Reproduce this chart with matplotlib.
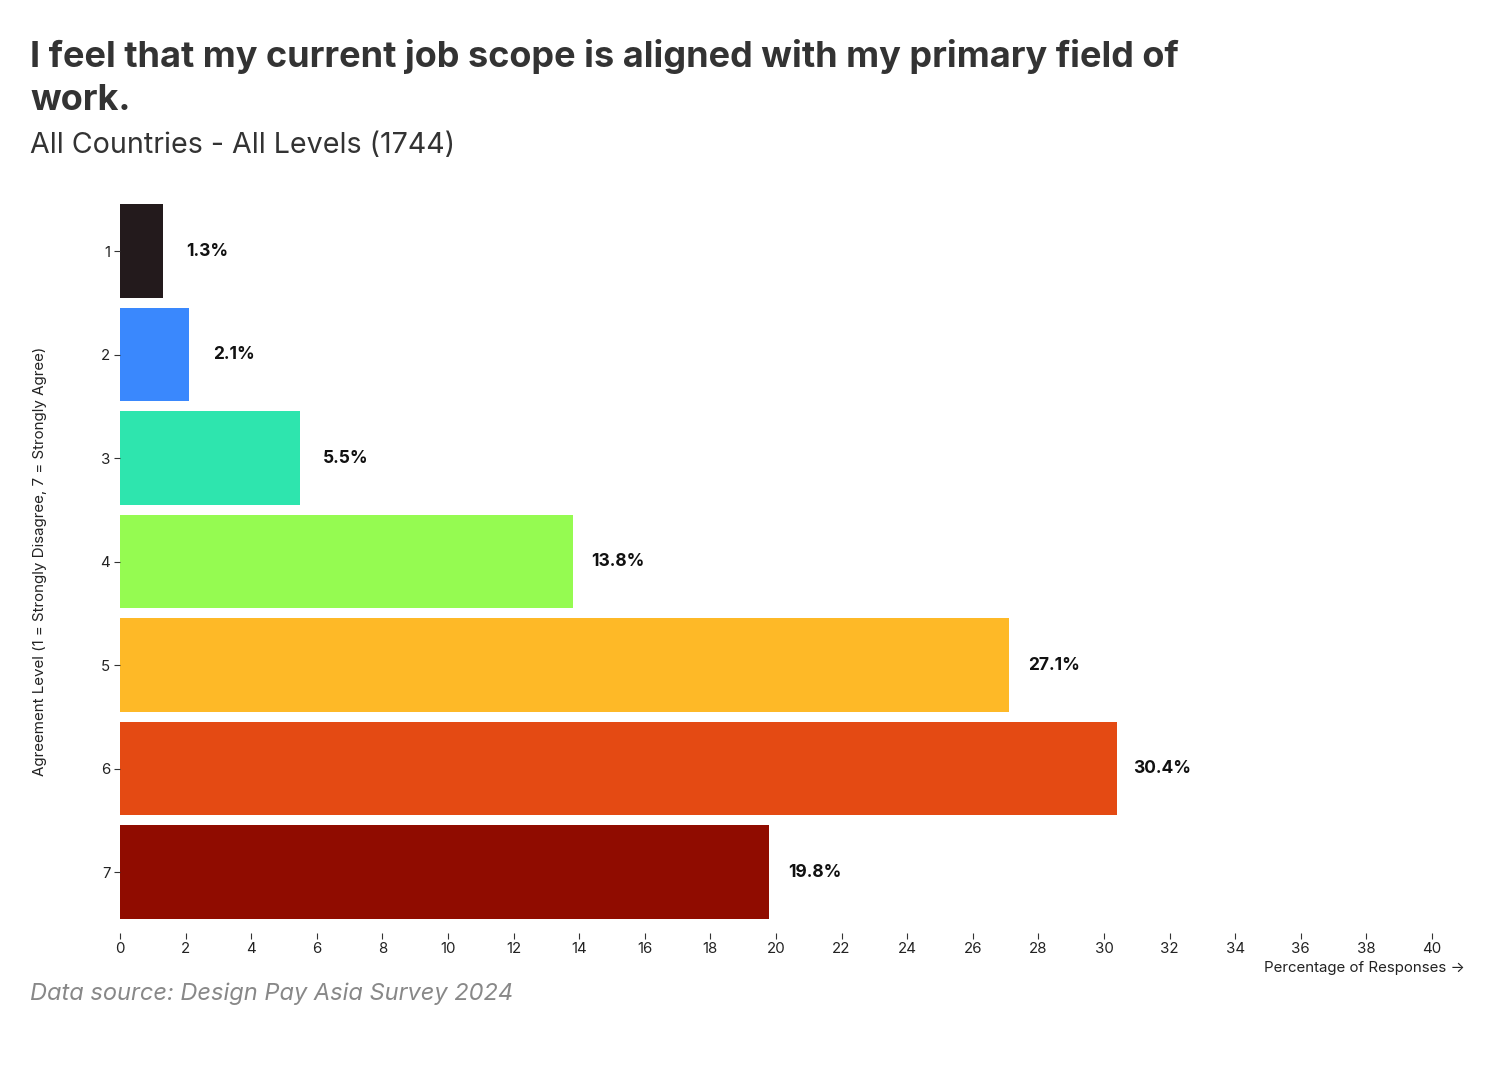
import matplotlib
matplotlib.use("Agg")
import matplotlib.pyplot as plt

levels = ["1", "2", "3", "4", "5", "6", "7"]
values = [1.3, 2.1, 5.5, 13.8, 27.1, 30.4, 19.8]
colors = ["#231a1c", "#3a88fd", "#2ee5ae", "#95fb51", "#feb927", "#e44a13", "#900c00"]
xticks = list(range(0, 41, 2))

title_l1 = "I feel that my current job scope is aligned with my primary field of"
title_l2 = "work."
subtitle = "All Countries - All Levels (1744)"
source = "Data source: Design Pay Asia Survey 2024"
xlabel = "Percentage of Responses \u2192"
ylabel = "Agreement Level (1 = Strongly Disagree, 7 = Strongly Agree)"

plt.rcParams['font.family'] = ['Inter', 'DejaVu Sans']

W, H = 1500, 1066
fig = plt.figure(figsize=(W / 100, H / 100), dpi=100)

def fx(px):
    return px / W

def fy(py):
    return 1 - py / H

left, right, top, bottom = 120, 1432, 199.25, 923.75
ax = fig.add_axes([fx(left), fy(bottom), fx(right - left), (bottom - top) / H])

ypos = list(range(len(levels)))
ax.barh(ypos, values, height=0.9, color=colors)
ax.set_ylim(len(levels) - 0.5, -0.5)
ax.set_xlim(0, 40)
ax.set_yticks(ypos)
ax.set_yticklabels(levels)
ax.set_xticks(xticks)
ax.set_xticklabels([str(t) for t in xticks])

for s in ax.spines.values():
    s.set_visible(False)
ax.spines['bottom'].set_position(('outward', 7))

ax.tick_params(axis='x', length=4.5, width=0.8, color='#333333', labelsize=10.8,
               labelcolor='#222222', pad=1.5)
ax.tick_params(axis='y', length=4.5, width=0.8, color='#333333', labelsize=10.8,
               labelcolor='#222222', pad=2.5)

for i, v in enumerate(values):
    ax.annotate(f"{v:.1f}%", xy=(v, i), xytext=(32.4, 0), textcoords='offset points',
                va='center', ha='center', fontsize=12.5, fontweight='bold', color='#111111')

fig.text(fx(30), fy(67), title_l1, fontsize=26, fontweight='bold', color='#333333',
         ha='left', va='baseline')
fig.text(fx(30), fy(110), title_l2, fontsize=26, fontweight='bold', color='#333333',
         ha='left', va='baseline')
fig.text(fx(30), fy(153), subtitle, fontsize=20.6, color='#333333', ha='left', va='baseline')
fig.text(fx(30), fy(1000), source, fontsize=17, color='#888888', style='italic',
         ha='left', va='baseline')
fig.text(fx(1465), fy(972), xlabel, fontsize=10.8, color='#222222', ha='right', va='baseline')
fig.text(fx(40), fy((top + bottom) / 2), ylabel, fontsize=10.9, color='#222222',
         rotation=90, ha='center', va='center')

fig.savefig("out.png", dpi=100)
